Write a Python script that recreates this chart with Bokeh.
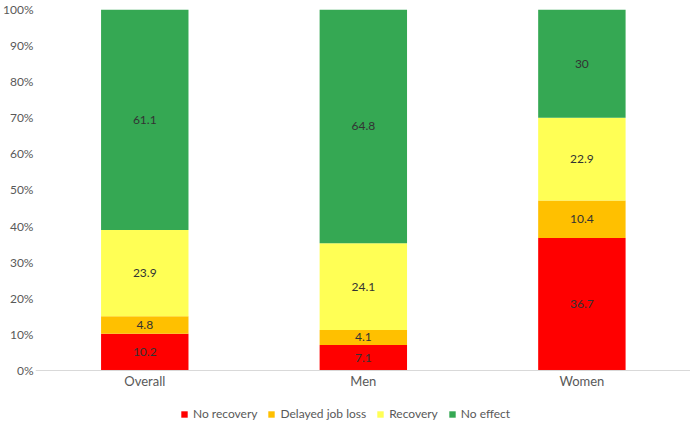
from bokeh.plotting import figure
from bokeh.models import (ColumnDataSource, FixedTicker, NumeralTickFormatter,
                          Legend, LegendItem, Range1d, LabelSet, Span)
from bokeh.core.properties import value
from bokeh.embed import file_html
from bokeh.resources import INLINE

categories = ["Overall", "Men", "Women"]
series_names = ["No recovery", "Delayed job loss", "Recovery", "No effect"]
no_recovery = [10.2, 7.1, 36.7]
delayed_job_loss = [4.8, 4.1, 10.4]
recovery = [23.9, 24.1, 22.9]
no_effect = [61.1, 64.8, 30]
series_colors = ["#FF0000", "#FFC000", "#FFFF55", "#35A853"]
y_ticks = [0, 0.1, 0.2, 0.3, 0.4, 0.5, 0.6, 0.7, 0.8, 0.9, 1.0]

FONT = "Lato"
TXT = "#595959"

series_values = [no_recovery, delayed_job_loss, recovery, no_effect]
xs = list(range(len(categories)))
totals = [sum(s[i] for s in series_values) for i in xs]

# frame spans from the top of the bars down to the bottom of the page so the
# category labels and the legend can sit inside it below the 0% baseline
p = figure(frame_width=655, frame_height=415, output_backend="svg",
           toolbar_location=None,
           x_range=Range1d(-0.5, 2.497), y_range=Range1d(-0.1496, 1),
           min_border_left=35, min_border_right=0, min_border_top=9,
           min_border_bottom=0)
p.outline_line_color = None
p.grid.visible = False
p.background_fill_color = "white"
p.xaxis.visible = False

bottoms = [0.0] * len(xs)
items = []
label_x, label_y, label_t = [], [], []
for name, vals, col in zip(series_names, series_values, series_colors):
    tops = [bottoms[i] + vals[i] / totals[i] for i in xs]
    src = ColumnDataSource(dict(x=xs, bottom=list(bottoms), top=tops))
    r = p.vbar(x="x", bottom="bottom", top="top", width=0.40, source=src,
               fill_color=col, line_color=None)
    items.append(LegendItem(label=name, renderers=[r]))
    for i in xs:
        label_x.append(xs[i])
        label_y.append((bottoms[i] + min(tops[i], 1.0)) / 2)
        label_t.append(f"{vals[i]:g}")
    bottoms = tops

lsrc = ColumnDataSource(dict(x=label_x, y=label_y, t=label_t))
p.add_layout(LabelSet(x="x", y="y", text="t", source=lsrc,
                      text_align="center", text_baseline="middle",
                      text_font=value(FONT), text_font_size=value("12px"),
                      text_color="#333333"))

# category axis: baseline at 0 and category names just below it
p.add_layout(Span(location=0, dimension="width", line_color="#D9D9D9",
                  line_width=1))
csrc = ColumnDataSource(dict(x=xs, y=[0] * len(xs), t=categories))
p.add_layout(LabelSet(x="x", y="y", text="t", source=csrc, y_offset=-11,
                      text_align="center", text_baseline="middle",
                      text_font=value(FONT), text_font_size=value("13px"),
                      text_color=TXT))

ya = p.yaxis[0]
ya.ticker = FixedTicker(ticks=y_ticks)
ya.formatter = NumeralTickFormatter(format="0%")
ya.axis_line_color = None
ya.major_tick_line_color = None
ya.minor_tick_line_color = None
ya.major_tick_out = 0
ya.major_tick_in = 0
ya.major_label_text_font = FONT
ya.major_label_text_font_size = "12px"
ya.major_label_text_color = TXT
ya.major_label_standoff = 2

legend = Legend(items=items, orientation="horizontal", location=(145, 3),
                glyph_width=8, glyph_height=8, label_standoff=5, spacing=10,
                padding=0, margin=0, border_line_color=None,
                background_fill_alpha=0, label_text_font=FONT,
                label_text_font_size="12px", label_text_color=TXT,
                label_height=12)
p.add_layout(legend)

open("out.html", "w").write(file_html(p, INLINE))
